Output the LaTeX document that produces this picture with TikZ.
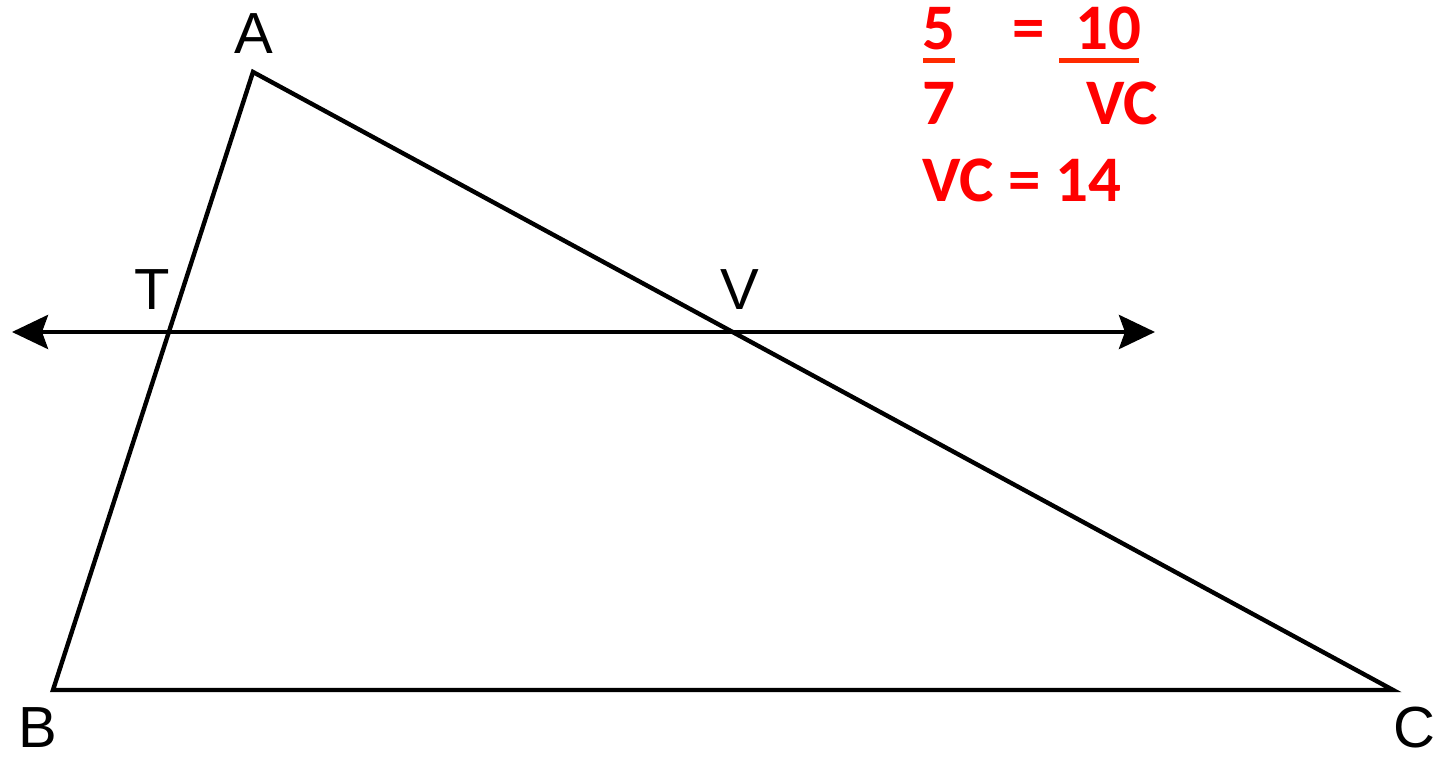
\documentclass[tikz,border=0pt]{standalone}
\usepackage{fontspec}
\setmainfont{Liberation Sans}
\newfontfamily\workfont{Carlito}
\usepackage{tikz}
\usetikzlibrary{arrows.meta,positioning}
\definecolor{WorkRed}{HTML}{FF0000}
\definecolor{BarRed}{HTML}{FF2A00}

\begin{document}
\begin{tikzpicture}[x=0.5pt,y=-0.5pt,>={Stealth[length=18pt,width=17pt,inset=3pt]}]
\tikzset{
  side/.style={line width=2.2pt,line join=miter},
  vlabel/.style={inner sep=0pt,font=\fontsize{29}{34}\selectfont},
  work/.style={inner sep=0pt,anchor=base,text=WorkRed,font=\workfont\bfseries\fontsize{32.5}{38}\selectfont},
  bar/.style={draw=BarRed,line width=2.5pt}
}
\useasboundingbox (0,0) rectangle (1437,758);
% triangle
\coordinate (A) at (253,72);
\coordinate (B) at (53,690);
\coordinate (C) at (1393,690);
\draw[side] (A) -- (B) -- (C) -- cycle;
% parallel line through T and V
\coordinate (T) at (169,332);
\coordinate (V) at (733,332);
\coordinate (left) at (12,332);
\coordinate (right) at (1155,332);
\draw[side,<->] (left) -- (right);
% vertex labels
\node[vlabel] (labA) at (254,34) {A};
\node[vlabel] (labB) at (38,728) {B};
\node[vlabel] (labC) at (1414,728) {C};
\node[vlabel] (labT) at (152,290) {T};
\node[vlabel] (labV) at (740,290) {V};
% red working
\node[work] (five) at (939,50) {5};
\node[work] (eq) at (1029,50) {=};
\node[work] (ten) at (1108,50) {10};
\node[work] (seven) at (939,125) {7};
\node[work] (vc) at (1122,125) {VC};
\node[work] (result) at (1022,202) {VC = 14};
\draw[bar] (923,61) -- (955,61);
\draw[bar] (1059,61) -- (1139,61);
\end{tikzpicture}
\end{document}
